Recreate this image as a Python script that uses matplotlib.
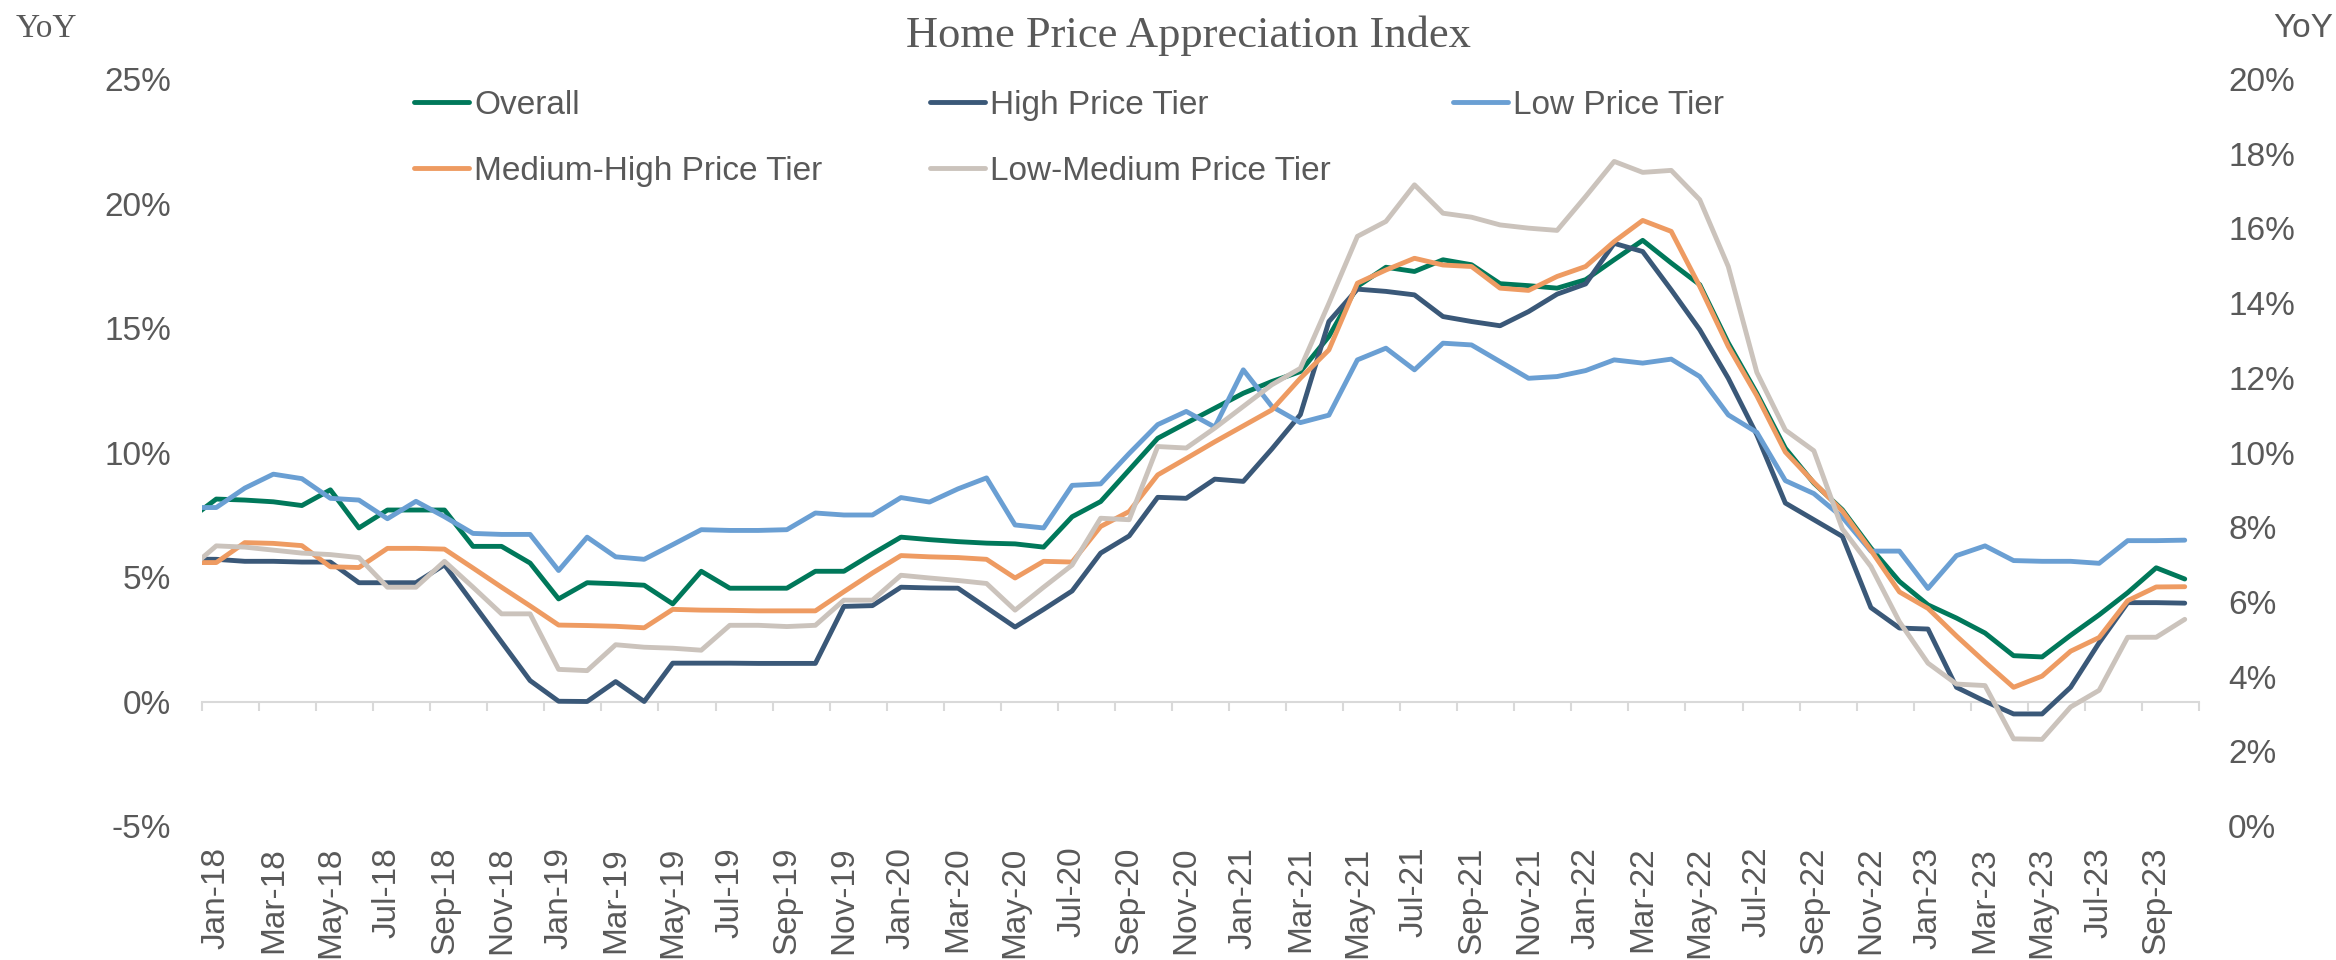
#!/usr/bin/env python3
"""Home Price Appreciation Index - YoY by price tier"""

import numpy as np
import pandas as pd
import matplotlib
matplotlib.use('Agg')
import matplotlib.pyplot as plt
from matplotlib.ticker import FuncFormatter

plt.rcParams['font.family'] = ['Liberation Sans', 'DejaVu Sans']

# Monthly categories, Dec-17 .. Oct-23 (Dec-17 only shows as the clipped lead-in)
months = pd.date_range('2017-12-01', '2023-10-01', freq='MS').strftime('%b-%y').tolist()

# YoY values in %
overall = [7.27,
           8.13, 8.09, 8.02, 7.87, 8.50, 6.97, 7.69, 7.69, 7.69, 6.23, 6.23, 5.56,
           4.12, 4.77, 4.73, 4.67, 3.92, 5.23, 4.55, 4.55, 4.55, 5.23, 5.23, 5.93,
           6.60, 6.50, 6.42, 6.36, 6.33, 6.20, 7.42, 8.03, 9.30, 10.57, 11.18, 11.78,
           12.38, 12.85, 13.25, 14.66, 16.67, 17.44, 17.27, 17.74, 17.54, 16.78, 16.70, 16.60,
           16.94, 17.74, 18.52, 17.61, 16.74, 14.40, 12.38, 10.17, 8.77, 7.70, 6.16, 4.82,
           3.88, 3.35, 2.75, 1.84, 1.79, 2.66, 3.48, 4.37, 5.37, 4.92]
high_tier = [5.72,
             5.71, 5.63, 5.63, 5.60, 5.60, 4.77, 4.77, 4.77, 5.49, 3.94, 2.39, 0.84,
             0.01, 0.00, 0.80, 0.00, 1.54, 1.54, 1.54, 1.53, 1.53, 1.53, 3.82, 3.85,
             4.59, 4.56, 4.55, 3.77, 2.99, 3.70, 4.44, 5.96, 6.65, 8.20, 8.16, 8.93,
             8.84, 10.14, 11.52, 15.26, 16.56, 16.47, 16.33, 15.46, 15.26, 15.09, 15.66, 16.36,
             16.77, 18.40, 18.07, 16.53, 14.93, 12.98, 10.71, 7.97, 7.30, 6.63, 3.77, 2.95,
             2.91, 0.57, 0.01, -0.50, -0.50, 0.57, 2.36, 3.97, 3.97, 3.95]
low_tier = [7.79,
            7.79, 8.57, 9.13, 8.95, 8.16, 8.09, 7.34, 8.04, 7.42, 6.75, 6.71, 6.71,
            5.26, 6.60, 5.81, 5.71, 6.30, 6.90, 6.87, 6.87, 6.90, 7.57, 7.49, 7.49,
            8.19, 8.01, 8.54, 8.98, 7.09, 6.97, 8.68, 8.74, 9.96, 11.12, 11.65, 11.02,
            13.32, 11.85, 11.20, 11.50, 13.72, 14.19, 13.32, 14.39, 14.32, 13.65, 12.98, 13.05,
            13.29, 13.72, 13.59, 13.75, 13.05, 11.51, 10.81, 8.87, 8.35, 7.40, 6.04, 6.04,
            4.54, 5.86, 6.25, 5.66, 5.63, 5.63, 5.55, 6.46, 6.46, 6.48]
med_high_tier = [5.58,
                 5.58, 6.38, 6.35, 6.26, 5.41, 5.38, 6.15, 6.15, 6.12, 5.36, 4.59, 3.84,
                 3.07, 3.05, 3.02, 2.96, 3.70, 3.67, 3.66, 3.64, 3.64, 3.64, 4.41, 5.16,
                 5.86, 5.81, 5.78, 5.71, 4.96, 5.63, 5.60, 7.03, 7.63, 9.10, 9.76, 10.43,
                 11.07, 11.71, 12.98, 14.12, 16.80, 17.33, 17.80, 17.53, 17.47, 16.60, 16.51, 17.07,
                 17.47, 18.47, 19.32, 18.88, 16.67, 14.26, 12.28, 10.02, 8.80, 7.65, 6.07, 4.40,
                 3.74, 2.63, 1.58, 0.57, 1.02, 2.02, 2.57, 4.05, 4.60, 4.61]
low_med_tier = [5.27,
                6.25, 6.20, 6.08, 5.96, 5.90, 5.78, 4.59, 4.59, 5.63, 4.59, 3.52, 3.52,
                1.29, 1.24, 2.28, 2.18, 2.14, 2.06, 3.06, 3.06, 3.01, 3.06, 4.07, 4.07,
                5.07, 4.96, 4.86, 4.74, 3.67, 4.59, 5.48, 7.36, 7.30, 10.24, 10.18, 10.98,
                11.85, 12.72, 13.38, 15.99, 18.68, 19.28, 20.75, 19.61, 19.45, 19.14, 19.01, 18.92,
                20.28, 21.69, 21.25, 21.33, 20.15, 17.47, 13.22, 10.90, 10.07, 6.93, 5.42, 3.20,
                1.54, 0.70, 0.64, -1.50, -1.52, -0.22, 0.45, 2.58, 2.58, 3.30]

series = [
    ('Overall', overall, '#00785A'),
    ('High Price Tier', high_tier, '#3A5878'),
    ('Low Price Tier', low_tier, '#6A9FD3'),
    ('Medium-High Price Tier', med_high_tier, '#EE9B62'),
    ('Low-Medium Price Tier', low_med_tier, '#CBC3BC'),
]

text_color = '#595959'
axis_color = '#D9D9D9'

W, H = 2336, 960
fig = plt.figure(figsize=(W / 100, H / 100), dpi=100)
ax = fig.add_axes([202 / W, 1 - 826 / H, (2199 - 202) / W, (826 - 79) / H])

x = np.arange(len(months))
lines = {}
for i, (name, vals, color) in enumerate(series):
    ln, = ax.plot(x, vals, color=color, linewidth=3.5, label=name, zorder=2 + i,
                  solid_joinstyle='round', solid_capstyle='round')
    lines[name] = ln

ax.set_xlim(0.5, len(months) - 0.5)
ax.set_ylim(-5, 25)
ax.set_yticks(np.arange(-5, 26, 5))
ax.yaxis.set_major_formatter(FuncFormatter(lambda v, p: f'{v:.0f}%'))
ax.tick_params(axis='y', length=0, pad=22, labelsize=24, labelcolor=text_color)

# category labels every other month, drawn at the bottom
ax.set_xticks(x[1::2])
ax.set_xticklabels(months[1::2])
ax.tick_params(axis='x', length=0, pad=15, labelsize=24, labelcolor=text_color,
               labelrotation=90)
for s in ax.spines.values():
    s.set_visible(False)

# category axis line at 0% with tick marks between categories
sec = ax.secondary_xaxis(5 / 30)
sec.set_xticks(np.arange(0.5, len(months), 2))
sec.tick_params(axis='x', direction='out', length=6.5, width=1.5, color=axis_color,
                labelbottom=False, labeltop=False)
for s in sec.spines.values():
    s.set_visible(False)
sec.spines['bottom'].set_visible(True)
sec.spines['bottom'].set_color(axis_color)
sec.spines['bottom'].set_linewidth(1.5)

# right-hand axis
ax2 = ax.twinx()
ax2.set_ylim(0, 20)
ax2.set_yticks(np.arange(0, 21, 2))
ax2.yaxis.set_major_formatter(FuncFormatter(lambda v, p: f'{v:.0f}%'))
ax2.tick_params(axis='y', length=0, pad=21, labelsize=24, labelcolor=text_color)
for s in ax2.spines.values():
    s.set_visible(False)

# titles
fig.text(1188 / W, 1 - 47 / H, 'Home Price Appreciation Index', ha='center', va='baseline',
         fontsize=32, color=text_color, family=['Liberation Serif', 'DejaVu Serif'])
fig.text(16 / W, 1 - 37 / H, 'YoY', ha='left', va='baseline', fontsize=24,
         color=text_color, family=['Liberation Serif', 'DejaVu Serif'])
fig.text(2333 / W, 1 - 37 / H, 'YoY', ha='right', va='baseline', fontsize=24,
         color=text_color)

# legend laid out row-major in three columns, one legend per column
legend_cols = [(414, ['Overall', 'Medium-High Price Tier']),
               (930, ['High Price Tier', 'Low-Medium Price Tier']),
               (1453, ['Low Price Tier'])]
for left, names in legend_cols:
    leg = fig.legend([lines[n] for n in names], names, loc='upper left',
                     bbox_to_anchor=(left / W, 1 - 90 / H), ncol=1, frameon=False,
                     fontsize=24, handlelength=1.65, handletextpad=0.15,
                     labelspacing=1.04, borderpad=0, borderaxespad=0)
    for t in leg.get_texts():
        t.set_color(text_color)

fig.savefig('out.png', dpi=100)
